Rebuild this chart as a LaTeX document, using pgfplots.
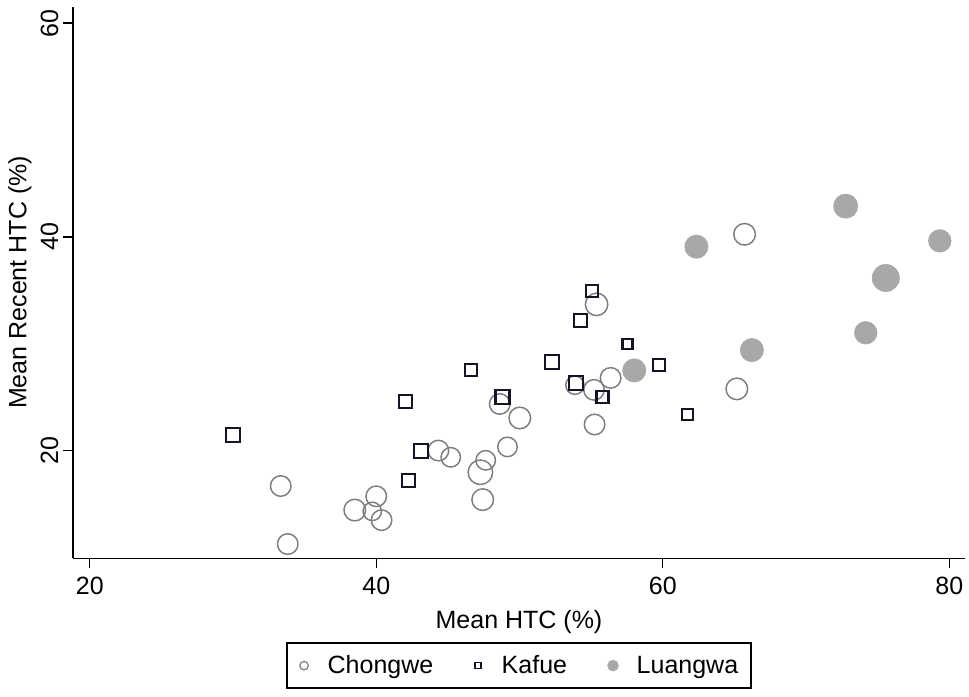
\documentclass[border=0pt]{standalone}
\usepackage{pgfplots}
\pgfplotsset{compat=1.18}
\usepackage{pgfplotstable}
\usepackage{fontspec}
\setmainfont{Liberation Sans}
\definecolor{chong}{RGB}{125,125,125}
\definecolor{kaf}{RGB}{20,20,38}
\definecolor{luang}{RGB}{168,168,168}
\newcommand{\bigfont}{\fontsize{18.75}{22}\selectfont}

\pgfplotstableread{
x y s
55.38 33.69 8.4
56.36 26.81 7.7
53.87 26.13 6.9
55.20 25.69 7.7
48.62 24.37 7.7
50.02 23.06 8.1
55.24 22.45 7.7
49.16 20.35 7.3
44.34 20.01 7.7
45.20 19.38 7.3
47.64 19.10 7.3
47.27 17.98 9.2
47.43 15.42 8.1
33.33 16.69 7.7
40.00 15.73 7.7
38.50 14.44 8.1
39.72 14.32 6.9
40.37 13.50 7.7
33.82 11.26 7.7
65.71 40.25 8.1
65.17 25.78 8.1
}\chongwe

\pgfplotstableread{
x y s
30.00 21.44 5.25
42.05 24.63 4.9
43.10 19.97 5.25
42.26 17.20 4.9
46.59 27.56 4.5
48.81 25.00 5.25
52.29 28.31 5.25
55.06 34.94 4.5
54.27 32.19 4.9
57.54 29.97 3.75
53.94 26.32 5.25
55.79 25.05 4.5
59.72 28.00 4.5
61.72 23.38 4.1
}\kafue

\pgfplotstableread{
x y s
62.35 39.09 8.75
72.77 42.88 9.1
79.34 39.63 8.5
75.57 36.16 10.25
74.17 31.03 8.5
66.22 29.41 8.75
58.01 27.51 8.75
}\luangwa

\begin{document}
\begin{tikzpicture}
\useasboundingbox (-54.75pt,-104.0pt) rectangle (672pt,418.7pt);
\begin{axis}[
  scale only axis, width=669pt, height=413.7pt,
  xmin=18.83, xmax=81.1, ymin=9.93, ymax=61.55,
  axis x line*=bottom, axis y line*=left,
  axis line style={-, line width=1.1pt, color=black},
  xtick={20,40,60,80}, ytick={20,40,60},
  minor tick num=0,
  tick align=outside, major tick length=7.5pt,
  tick style={line width=1.1pt, black},
  /pgf/number format/assume math mode=true,
  ticklabel style={font=\bigfont},
  xticklabel style={yshift=-3pt},
  yticklabel style={rotate=90, anchor=south},
  xlabel={Mean HTC (\%)}, ylabel={Mean Recent HTC (\%)},
  label style={font=\bigfont},
  xlabel style={yshift=-5pt},
  clip=false,
  legend columns=3,
  legend image code/.code={\path (-2.3pt,0pt) (17.25pt,0pt); \draw[#1] plot coordinates {(0pt,0pt)};},
  legend style={at={(0.5,-0.1523)}, anchor=north, draw=black, line width=1.1pt,
    inner xsep=9.5pt, inner ysep=9.4pt, font=\bigfont,
    nodes={inner sep=0pt},
    /tikz/every even column/.append style={column sep=30.7pt}},
]
\addplot[forget plot, only marks, scatter, mark=o, line width=1.1pt,
  scatter/use mapped color={draw=chong},
  visualization depends on={\thisrow{s} \as \ms},
  scatter/@pre marker code/.append style={/tikz/mark size=\ms pt}]
  table[x=x,y=y] {\chongwe};
\addplot[forget plot, only marks, scatter, mark=square, line width=1.6pt,
  scatter/use mapped color={draw=kaf},
  visualization depends on={\thisrow{s} \as \ms},
  scatter/@pre marker code/.append style={/tikz/mark size=\ms pt}]
  table[x=x,y=y] {\kafue};
\addplot[forget plot, only marks, scatter, mark=*,
  scatter/use mapped color={draw=luang, fill=luang},
  visualization depends on={\thisrow{s} \as \ms},
  scatter/@pre marker code/.append style={/tikz/mark size=\ms pt}]
  table[x=x,y=y] {\luangwa};
\addlegendimage{only marks, mark=o, mark size=3.2pt, line width=0.9pt, draw=chong}
\addlegendentry{Chongwe}
\addlegendimage{only marks, mark=square, mark size=2.2pt, line width=1.1pt, draw=kaf}
\addlegendentry{Kafue}
\addlegendimage{only marks, mark=*, mark size=3.75pt, draw=luang, fill=luang}
\addlegendentry{Luangwa}
\end{axis}
\end{tikzpicture}
\end{document}
